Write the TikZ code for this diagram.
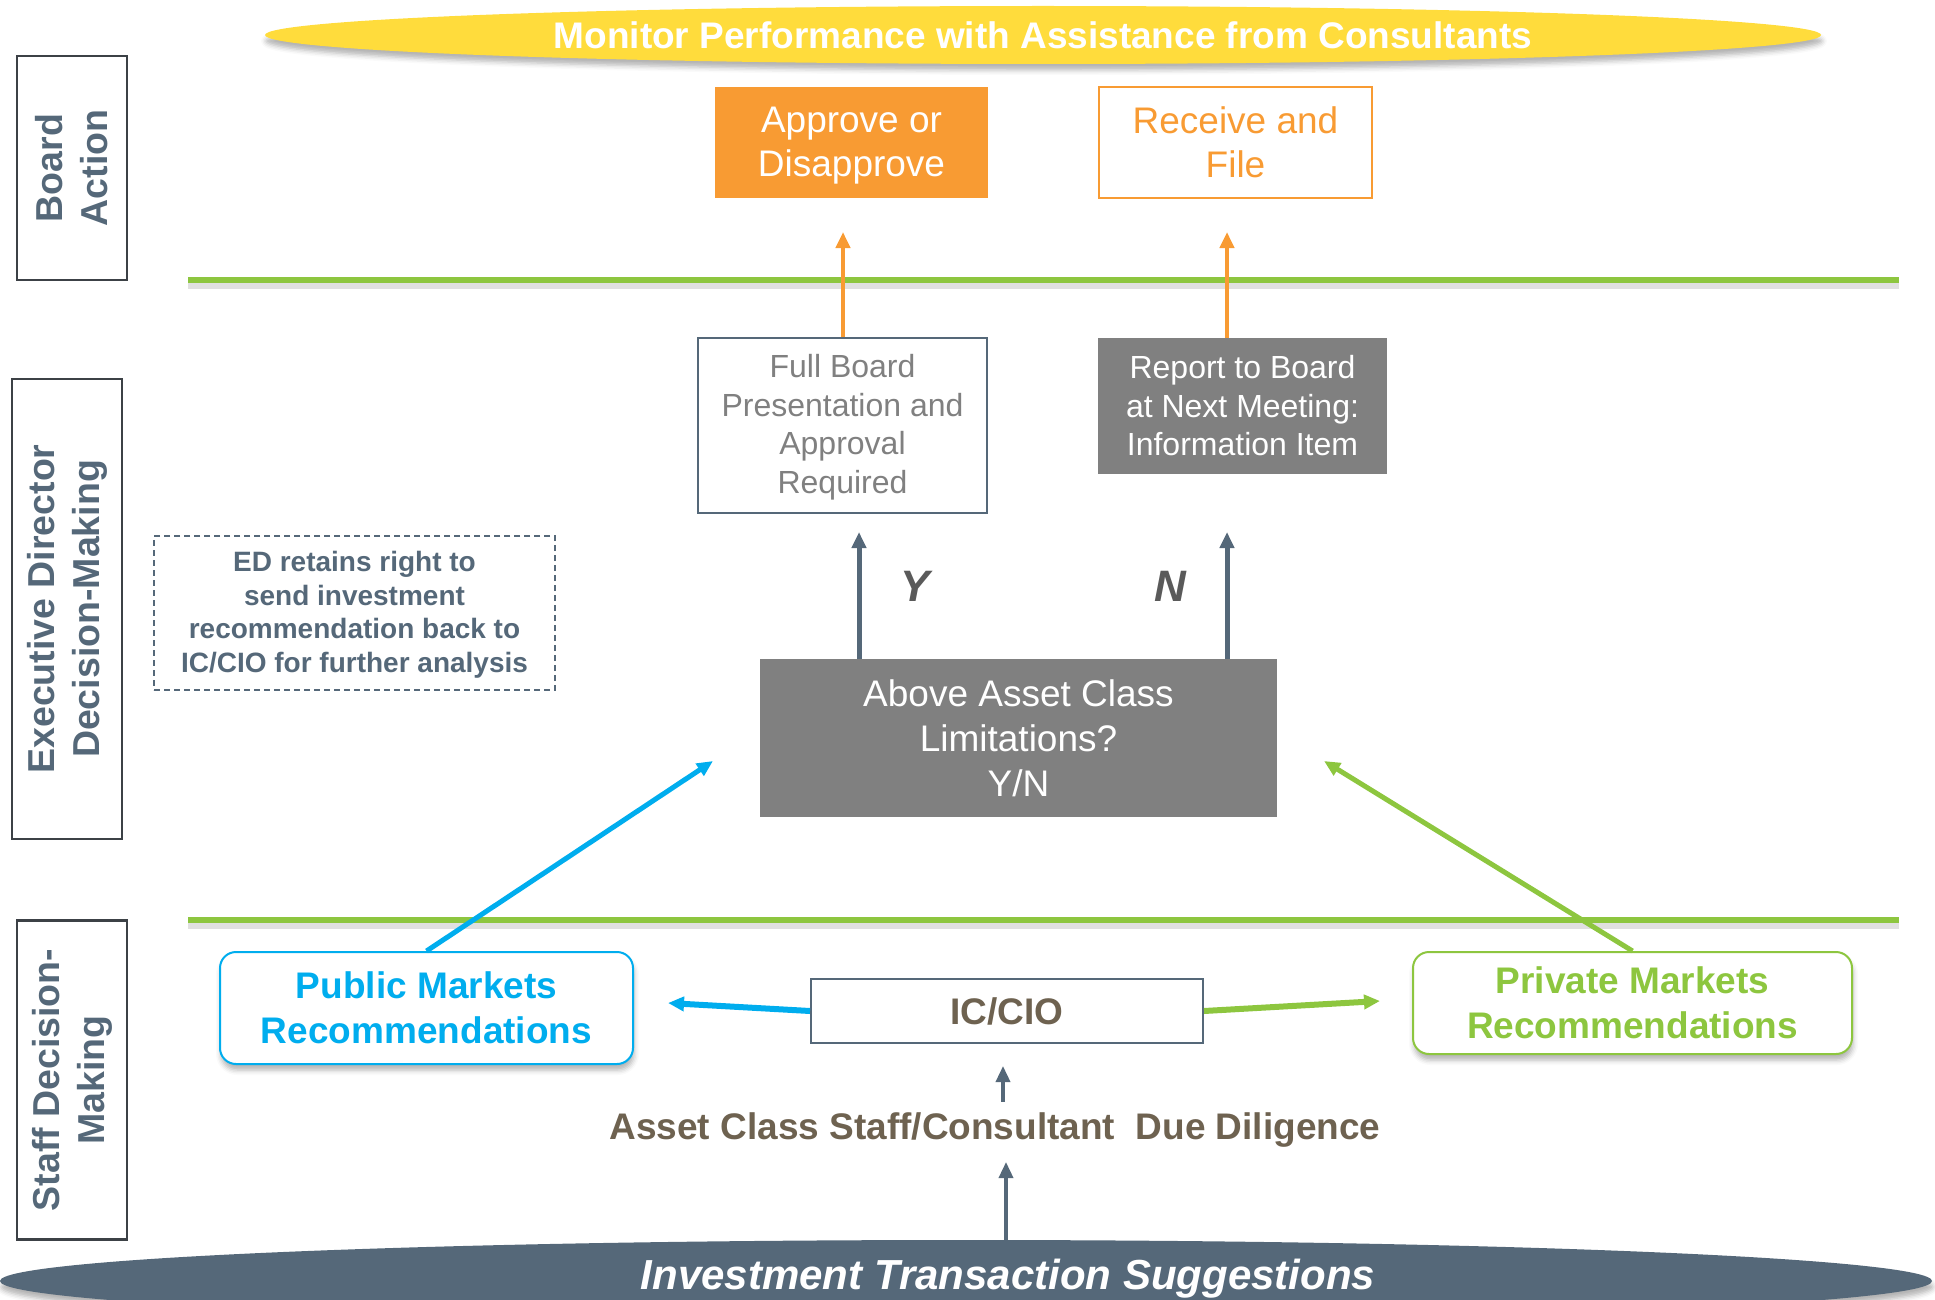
\documentclass[tikz,border=0pt]{standalone}
\usepackage{fontspec}
\setmainfont{Liberation Sans}
\usetikzlibrary{shapes.geometric,shadows.blur,arrows.meta}

\definecolor{slate}{HTML}{556879}
\definecolor{laneedge}{HTML}{3C4146}
\definecolor{sunyellow}{HTML}{FFDC3C}
\definecolor{boardorange}{HTML}{F89B33}
\definecolor{midgray}{HTML}{808080}
\definecolor{yngray}{HTML}{5A5A5A}
\definecolor{pubblue}{HTML}{00ADEE}
\definecolor{privgreen}{HTML}{8DC63F}
\definecolor{staffbrown}{HTML}{6E6250}

\newcommand{\fsz}[2]{\fontsize{#1}{#2}\selectfont}

\begin{document}
\begin{tikzpicture}[x=1pt,y=-1pt,
  lane/.style={draw=laneedge, line width=2.5pt, rotate=90, minimum height=110pt,
    inner sep=0pt, align=center, text=slate, font=\fsz{37.5}{45}\bfseries},
  box/.style={rectangle, inner sep=0pt, align=center},
  soft/.style={blur shadow={shadow xshift=1pt, shadow yshift=-6pt,
    shadow blur radius=5pt, shadow opacity=30}},
  roundbox/.style={box, soft, rounded corners=16pt, fill=white, line width=2pt,
    font=\fsz{37}{45}\bfseries},
  divider/.style={privgreen, line width=6pt},
  divshade/.style={black, opacity=0.12, line width=8pt},
  flow/.style={line width=#1, -{Triangle[length=16pt, width=14pt]}},
  flow/.default=5pt,
  yn/.style={text=yngray, font=\fsz{44}{50}\bfseries\itshape}
]
\clip (0,0) rectangle (1935,1300);

% side lanes
\node[lane, minimum width=224pt] (boardlane) at (72,168) {Board\\Action};
\node[lane, minimum width=460pt] (execlane) at (67,609) {Executive Director\\Decision-Making};
\node[lane, minimum width=319pt] (stafflane) at (72,1080) {Staff Decision-\\Making};

% lane dividers
\draw[divshade] (188,285) -- (1899,285);
\draw[divider] (188,280) -- (1899,280);
\draw[divshade] (188,925) -- (1899,925);
\draw[divider] (188,920) -- (1899,920);

% top and bottom bands
\node[ellipse, soft, fill=sunyellow, minimum width=1556pt, minimum height=58pt, inner sep=0pt,
  text=white, font=\fsz{37}{44}\bfseries] (monitor) at (1043,35)
  {Monitor Performance with Assistance from Consultants};
\node[ellipse, soft, fill=slate, minimum width=1932pt, minimum height=82pt, inner sep=0pt,
  label={[text=white, font=\fsz{42}{48}\bfseries\itshape, xshift=42pt, yshift=2.5pt]center:Investment Transaction Suggestions}]
  (invest) at (966,1281) {};

% board action
\node[box, fill=boardorange, text=white, minimum width=273pt, minimum height=111pt,
  font=\fsz{37}{44}] (approve) at (851.5,142.5) {\strut Approve or\\Disapprove};
\node[box, draw=boardorange, line width=2pt, text=boardorange, minimum width=273pt,
  minimum height=111pt, font=\fsz{37}{44}] (receive) at (1235.5,142.5) {Receive and\\File};

% executive director
\node[box, draw=slate, line width=1.5pt, text=midgray, minimum width=289pt, minimum height=175pt,
  font=\fsz{32}{38.5}] (fullboard) at (842.5,425.5) {\strut Full Board\\Presentation and\\Approval\\Required};
\node[box, fill=midgray, text=white, minimum width=289pt, minimum height=136pt,
  font=\fsz{32}{38.5}] (report) at (1242.5,406) {Report to Board\\at Next Meeting:\\Information Item};
\node[box, fill=midgray, text=white, minimum width=517pt, minimum height=158pt,
  font=\fsz{37}{45}] (above) at (1018.5,738) {Above Asset Class\\Limitations?\\Y/N};
\node[box, draw=slate, line width=1.5pt, dash pattern=on 6pt off 4pt, text=slate,
  minimum width=401pt, minimum height=154pt, font=\fsz{28}{33.5}\bfseries] (ednote) at (354.5,613)
  {\strut ED retains right to\\send investment\\recommendation back to\\IC/CIO for further analysis};
\node[yn] (ylabel) at (915,586) {Y};
\node[yn] (nlabel) at (1170,586) {N};

% staff
\node[roundbox, draw=pubblue, text=pubblue, minimum width=413pt, minimum height=112pt]
  (public) at (426.5,1008) {Public Markets\\Recommendations};
\node[roundbox, draw=privgreen, text=privgreen, minimum width=439pt, minimum height=102pt]
  (private) at (1632.5,1003) {Private Markets\\Recommendations};
\node[box, draw=slate, line width=2pt, fill=white, text=staffbrown, minimum width=392pt,
  minimum height=64pt, font=\fsz{37}{44}\bfseries] (iccio) at (1007,1011) {IC/CIO};
\node[box, text=staffbrown, minimum height=56pt, font=\fsz{37}{44}\bfseries] (diligence)
  at (995,1130) {Asset Class Staff/Consultant\ \ Due Diligence};

% arrow heads
\coordinate (fbtip) at (843,232);
\coordinate (rptip) at (1227,232);
\coordinate (ytip) at (859,532);
\coordinate (ntip) at (1227,532);
\coordinate (bluetip) at (713,761);
\coordinate (greentip) at (1324,761);
\coordinate (pubtip) at (668,1003);
\coordinate (privtip) at (1380,1001);
\coordinate (iccin) at (1003,1066);
\coordinate (dilin) at (1006,1162);

\draw[flow=4pt, boardorange] (fullboard.north -| fbtip) -- (fbtip);
\draw[flow=4pt, boardorange] (report.north -| rptip) -- (rptip);
\draw[flow, slate] (above.north -| ytip) -- (ytip);
\draw[flow, slate] (above.north -| ntip) -- (ntip);
\draw[flow, pubblue] (public.north) -- (bluetip);
\draw[flow, privgreen] (private.north) -- (greentip);
\draw[flow=6pt, pubblue] (iccio.west) -- (pubtip);
\draw[flow=6pt, privgreen] (iccio.east) -- (privtip);
\draw[flow=3.5pt, slate] (diligence.north -| iccin) -- (iccin);
\draw[flow=3.5pt, slate] (invest.north -| dilin) -- (dilin);
\end{tikzpicture}
\end{document}
